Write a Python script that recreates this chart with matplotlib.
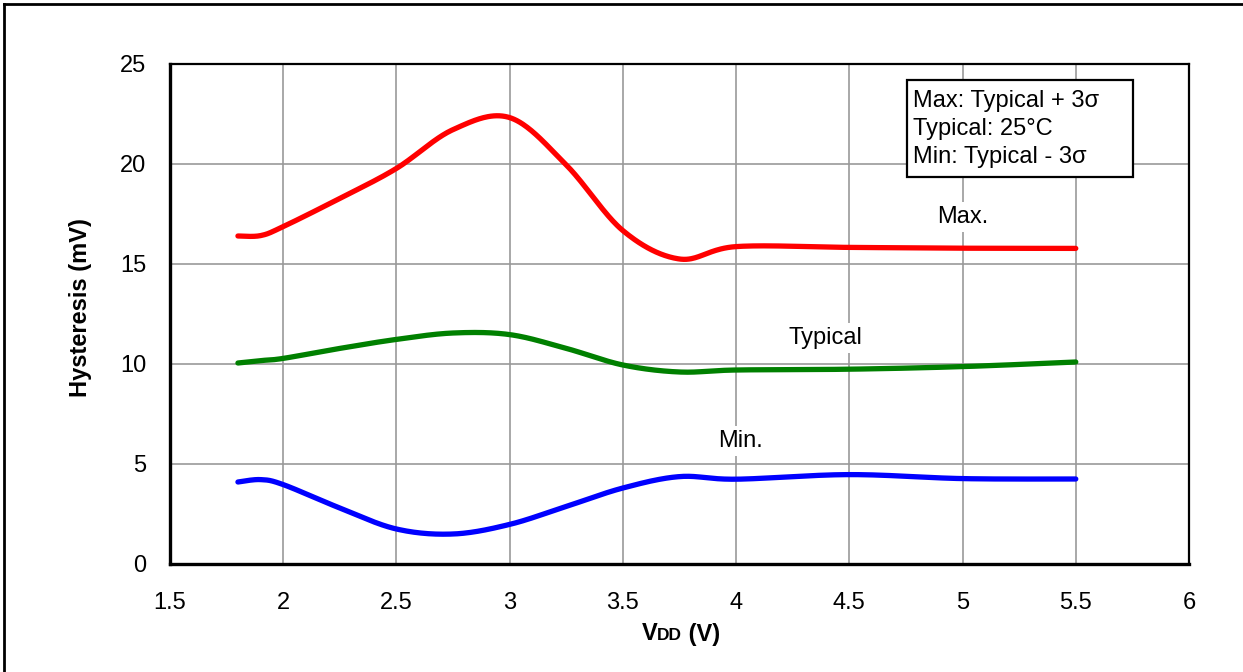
import numpy as np
import matplotlib
matplotlib.use("Agg")
import matplotlib.pyplot as plt
from matplotlib.lines import Line2D
from matplotlib.patches import Rectangle
from matplotlib.offsetbox import TextArea, HPacker, AnnotationBbox

plt.rcParams['font.family'] = ['Liberation Sans', 'DejaVu Sans']

# ---- data ----
vdd = [1.8, 1.9, 2.0, 2.25, 2.5, 2.75, 3.0, 3.25, 3.5, 3.75, 4.0, 4.5, 5.0, 5.5]
hyst_max = [16.4, 16.42, 16.87, 18.28, 19.78, 21.72, 22.32, 19.95, 16.67, 15.25, 15.87, 15.83, 15.79, 15.78]
hyst_typ = [10.05, 10.17, 10.28, 10.78, 11.23, 11.55, 11.47, 10.78, 9.95, 9.6, 9.7, 9.74, 9.87, 10.1]
hyst_min = [4.1, 4.22, 3.97, 2.8, 1.75, 1.5, 1.98, 2.88, 3.8, 4.37, 4.24, 4.47, 4.27, 4.25]

x_ticks = [1.5, 2, 2.5, 3, 3.5, 4, 4.5, 5, 5.5, 6]
x_tick_labels = ["1.5", "2", "2.5", "3", "3.5", "4", "4.5", "5", "5.5", "6"]
y_ticks = [0, 5, 10, 15, 20, 25]
note_lines = ["Max: Typical + 3\u03c3", "Typical: 25\u00b0C", "Min: Typical - 3\u03c3"]


def smooth(xs, ys, n=40):
    """Excel-style smoothed line (Catmull-Rom Bezier through the points)."""
    P = np.column_stack([xs, ys]).astype(float)
    m = len(P)
    out = []
    for i in range(m - 1):
        p0 = P[i - 1] if i > 0 else P[i]
        p1 = P[i]
        p2 = P[i + 1]
        p3 = P[i + 2] if i + 2 < m else P[i + 1]
        c1 = p1 + (p2 - p0) / 6.0
        c2 = p2 - (p3 - p1) / 6.0
        t = np.linspace(0, 1, n)[:, None]
        seg = ((1 - t) ** 3) * p1 + 3 * ((1 - t) ** 2) * t * c1 + 3 * (1 - t) * t ** 2 * c2 + t ** 3 * p2
        out.append(seg if i == 0 else seg[1:])
    s = np.vstack(out)
    return s[:, 0], s[:, 1]


W, H = 1243, 672
FS = 17
fig = plt.figure(figsize=(W / 100, H / 100), dpi=100)
ax = fig.add_axes([170 / W, 1 - 564 / H, (1189 - 170) / W, (564 - 64) / H])

for ys, col in [(hyst_max, '#FF0000'), (hyst_typ, '#008000'), (hyst_min, '#0000FF')]:
    sx, sy = smooth(vdd, ys)
    ax.plot(sx, sy, color=col, lw=3.8, solid_capstyle='round', zorder=3)

ax.set_xlim(1.5, 6)
ax.set_ylim(0, 25)
ax.set_xticks(x_ticks)
ax.set_xticklabels(x_tick_labels)
ax.set_yticks(y_ticks)
ax.tick_params(length=0, labelsize=FS, colors='black')
ax.tick_params(axis='y', pad=17)
ax.tick_params(axis='x', pad=20)
ax.grid(True, color='#999999', lw=1.2, zorder=0)
ax.set_axisbelow(True)
for side in ['left', 'bottom']:
    ax.spines[side].set_linewidth(2.4)
for side in ['top', 'right']:
    ax.spines[side].set_linewidth(1.6)
for sp in ax.spines.values():
    sp.set_color('black')

# y label
fig.text(80 / W, 1 - 308 / H, "Hysteresis (mV)", rotation=90, fontsize=FS,
         fontweight='bold', ha='center', va='center')

# x label with small "DD"
parts = HPacker(children=[
    TextArea("V", textprops=dict(fontsize=FS, fontweight='bold')),
    TextArea("DD", textprops=dict(fontsize=12.5, fontweight='bold')),
    TextArea(" (V)", textprops=dict(fontsize=FS, fontweight='bold')),
], align='baseline', pad=0, sep=0)
ab = AnnotationBbox(parts, (681 / W, 1 - 634 / H), xycoords='figure fraction',
                    frameon=False, box_alignment=(0.5, 0.5))
fig.add_artist(ab)

# note box (fixed-size frame with three text lines)
ax.add_patch(Rectangle((4.755, 19.35), 5.753 - 4.755, 24.2 - 19.35, fc='white',
                       ec='black', lw=1.6, zorder=5))
for line, yb in zip(note_lines, [22.87, 21.45, 20.04]):
    ax.text(4.781, yb, line, fontsize=FS, ha='left', va='baseline', zorder=6)

# series labels
for txt, x, y in [("Max.", 5.0, 17.35), ("Typical", 4.393, 11.3), ("Min.", 4.018, 6.15)]:
    ax.text(x, y, txt, fontsize=FS, ha='center', va='center', zorder=4,
            bbox=dict(boxstyle='square,pad=0.15', fc='white', ec='none'))

# outer frame (left and top edges visible)
fig.add_artist(Line2D([4 / W, 4 / W], [0, 1 - 4 / H], color='black', lw=2, transform=fig.transFigure))
fig.add_artist(Line2D([4 / W, 1], [1 - 4 / H, 1 - 4 / H], color='black', lw=2, transform=fig.transFigure))

fig.savefig("out.png", dpi=100)
